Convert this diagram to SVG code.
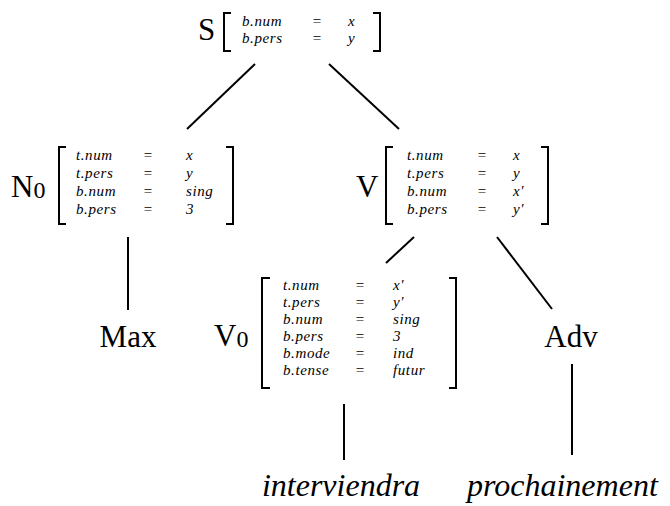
<svg xmlns="http://www.w3.org/2000/svg" width="670" height="506" viewBox="0 0 670 506">
<style>
.big{font-family:"Liberation Serif","Times New Roman",serif;font-size:31px;fill:#000}
.sub{font-family:"Liberation Serif","Times New Roman",serif;font-size:24px;fill:#000}
.f{font-family:"Liberation Serif","Times New Roman",serif;font-size:15px;font-style:italic;fill:#000;letter-spacing:0.6px}
.eq{font-family:"Liberation Serif","Times New Roman",serif;font-size:15px;fill:#000;text-anchor:middle}
.word{font-family:"Liberation Serif","Times New Roman",serif;font-size:32px;font-style:italic;fill:#000}
.br{fill:none;stroke:#000;stroke-width:2}
.edge{stroke:#000;stroke-width:2;fill:none}
</style>
<rect width="670" height="506" fill="#fff"/>
<g id="connectors">
<line class="edge" x1="255" y1="64" x2="187" y2="129"/>
<line class="edge" x1="329" y1="64" x2="399" y2="129"/>
<line class="edge" x1="128" y1="237" x2="128" y2="310"/>
<line class="edge" x1="414" y1="237" x2="386" y2="263"/>
<line class="edge" x1="497" y1="237" x2="552" y2="309"/>
<line class="edge" x1="344" y1="404" x2="344" y2="460"/>
<line class="edge" x1="572" y1="364" x2="572" y2="455"/>
</g>
<g id="node-S">
<text class="big" x="198" y="40">S</text>
<path class="br" d="M231,13 H224 V51 H231"/>
<path class="br" d="M373,13 H380 V51 H373"/>
<text class="f" x="242" y="26">b.num</text>
<text class="eq" x="317" y="26">=</text>
<text class="f" x="348" y="26">x</text>
<text class="f" x="242" y="43">b.pers</text>
<text class="eq" x="317" y="43">=</text>
<text class="f" x="348" y="43">y</text>
</g>
<g id="node-N0">
<text class="big" x="11" y="197">N<tspan class="sub" dy="1">0</tspan></text>
<path class="br" d="M66,147 H59 V224 H66"/>
<path class="br" d="M226,147 H233 V224 H226"/>
<text class="f" x="76" y="160">t.num</text><text class="eq" x="148" y="160">=</text><text class="f" x="186" y="160">x</text>
<text class="f" x="76" y="178">t.pers</text><text class="eq" x="148" y="178">=</text><text class="f" x="186" y="178">y</text>
<text class="f" x="76" y="196">b.num</text><text class="eq" x="148" y="196">=</text><text class="f" x="186" y="196">sing</text>
<text class="f" x="76" y="214">b.pers</text><text class="eq" x="148" y="214">=</text><text class="f" x="186" y="214">3</text>
</g>
<g id="node-V">
<text class="big" x="356" y="197">V</text>
<path class="br" d="M393,147 H386 V224 H393"/>
<path class="br" d="M541,147 H548 V224 H541"/>
<text class="f" x="407" y="160">t.num</text><text class="eq" x="482" y="160">=</text><text class="f" x="513" y="160">x</text>
<text class="f" x="407" y="178">t.pers</text><text class="eq" x="482" y="178">=</text><text class="f" x="513" y="178">y</text>
<text class="f" x="407" y="196">b.num</text><text class="eq" x="482" y="196">=</text><text class="f" x="513" y="196">x′</text>
<text class="f" x="407" y="214">b.pers</text><text class="eq" x="482" y="214">=</text><text class="f" x="513" y="214">y′</text>
</g>
<g id="node-Max">
<text class="big" x="128" y="347" text-anchor="middle">Max</text>
</g>
<g id="node-V0">
<text class="big" x="214" y="346">V<tspan class="sub" dy="1">0</tspan></text>
<path class="br" d="M270,278 H262 V388 H270"/>
<path class="br" d="M449,278 H456 V388 H449"/>
<text class="f" x="283" y="290">t.num</text><text class="eq" x="360" y="290">=</text><text class="f" x="393" y="290">x′</text>
<text class="f" x="283" y="307">t.pers</text><text class="eq" x="360" y="307">=</text><text class="f" x="393" y="307">y′</text>
<text class="f" x="283" y="324">b.num</text><text class="eq" x="360" y="324">=</text><text class="f" x="393" y="324">sing</text>
<text class="f" x="283" y="341">b.pers</text><text class="eq" x="360" y="341">=</text><text class="f" x="393" y="341">3</text>
<text class="f" x="283" y="358">b.mode</text><text class="eq" x="360" y="358">=</text><text class="f" x="393" y="358">ind</text>
<text class="f" x="283" y="375">b.tense</text><text class="eq" x="360" y="375">=</text><text class="f" x="393" y="375">futur</text>
</g>
<g id="node-Adv">
<text class="big" x="571" y="347" text-anchor="middle">Adv</text>
</g>
<g id="node-interviendra">
<text class="word" x="341" y="496" text-anchor="middle">interviendra</text>
</g>
<g id="node-prochainement">
<text class="word" x="467" y="496">prochainement</text>
</g>
</svg>
